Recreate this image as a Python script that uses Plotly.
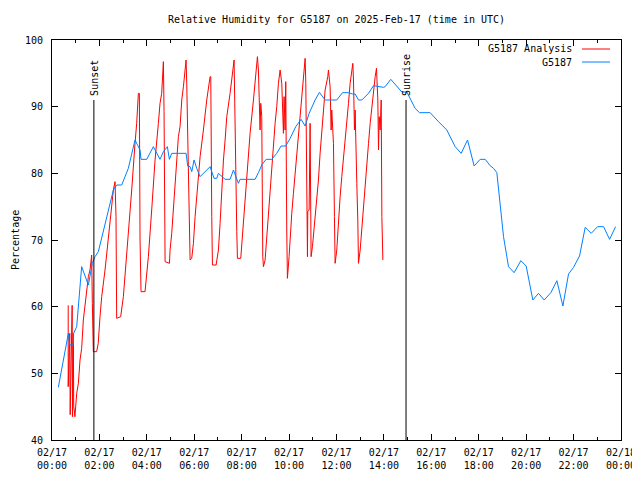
import plotly.graph_objects as go
import pandas as pd

# ---------------- data (minutes after 2025-02-17 00:00 UTC, %RH) ----------------
analysis_min = [41, 41, 45, 46, 51, 52, 54, 55, 57, 58, 62.5, 66.7, 70.9, 75.1, 79.3, 83.5, 87.8, 92, 96.2,
                100.4, 102.1, 104.6, 113, 117, 121.5, 125.8, 134.2, 142.6, 151, 155.3, 159.5, 162, 163.7,
                173.8, 180.6, 184.8, 193.2, 201.7, 210.1, 214.3, 218.6, 221.1, 222.8, 225.3, 235.4, 243.9,
                252.3, 260.8, 269.2, 273.4, 277.6, 281.9, 283.6, 286.2, 297.2, 298.8, 303, 307.2, 311.4,
                315.7, 319.9, 324.1, 328.4, 332.6, 336.8, 339.3, 341, 347.8, 349.5, 353.6, 357.9, 362.1,
                366.3, 370.5, 374.8, 383.2, 391.6, 400.1, 401.8, 404.3, 406, 415.3, 421.2, 425.4, 429.6,
                433.9, 438.1, 442.3, 450.7, 457.5, 460.8, 467.6, 469.3, 477.7, 484.5, 492.9, 497.1, 501.3,
                509.8, 518.2, 519.9, 522.4, 525, 526.6, 528.3, 530.8, 533.4, 535.1, 539.3, 543.5, 547.7,
                551.9, 556.1, 560.4, 564.6, 568.8, 573, 577.3, 581.5, 585.7, 587.4, 589.9, 591.6, 594.1,
                595.8, 600, 602.6, 606.8, 611, 615.2, 619.5, 623.7, 627.9, 632.1, 636.3, 640.6, 642.3,
                644.8, 646.5, 647.3, 650.7, 653.2, 655.7, 659.1, 661.6, 665.9, 670.1, 674.3, 678.5, 682.7,
                687, 691.2, 697.9, 699.6, 703.8, 706.4, 708, 710.6, 712.3, 714.8, 716.5, 720.7, 724.9,
                729.2, 733.4, 737.6, 741.8, 746.1, 750.3, 754.5, 758.7, 761.3, 763, 765.5, 767.2, 768.9,
                771.4, 773.9, 775.6, 779.9, 784.1, 788.3, 792.5, 796.7, 801, 805.2, 809.4, 813.6, 817.9,
                821.2, 824.6, 826.3, 828, 830.5, 833.1, 834.8, 837.3]
analysis_val = [60.2, 48.0, 56.0, 43.8, 60.2, 43.5, 56.0, 45.0, 44.2, 43.5, 47, 48.5, 52, 53.75, 58, 60.5, 62.75,
                64.5, 65.5, 67.75, 60.5, 53.25, 53.25, 54.5, 58.5, 61.5, 65.5, 70.5, 74.5, 77.5, 78.75, 73.5,
                58.25, 58.5, 61.5, 64.5, 70.5, 77.5, 84.5, 87.5, 92, 92, 70, 62.25, 62.25, 67.5, 74.5, 82,
                87.5, 90.5, 92, 96.75, 89.25, 66.75, 66.5, 68.5, 71, 74.5, 78.5, 82.5, 85.5, 87, 91, 93,
                95.5, 97, 93.5, 71, 67, 67.25, 69.5, 73.5, 76.5, 79, 82.5, 86.5, 91, 94.5, 94.5, 73.5,
                66.25, 66.25, 68.5, 72.5, 77.5, 82, 85, 88.5, 92, 96, 97, 71.25, 67.25, 67.25, 72.5, 78.5,
                82.5, 86, 91, 96.5, 97.5, 95.5, 88.5, 86.5, 90.5, 88.5, 67.5, 66, 67, 70.5, 74.5, 78,
                81.5, 85, 87.5, 90, 93.5, 95.5, 93.5, 86, 91.5, 86.5, 93.75, 71.5, 64.25, 67.5, 70.5, 74,
                77, 80, 82.5, 85.5, 88.5, 92, 95, 97.25, 93.5, 75, 67.5, 74.25, 74.5, 87.5, 67.5, 69,
                70.5, 73, 76, 79, 83, 86.5, 89.5, 92.5, 94.5, 95.5, 93, 86.5, 89.5, 86.5, 84.5, 73.5,
                66.5, 68.5, 73, 76.5, 79.5, 82, 85, 88, 90.5, 93.5, 95.5, 96.5, 94, 86.5, 89.5, 83.5,
                78.5, 73, 66.5, 68.5, 72, 75.5, 78, 81, 84.5, 87.5, 90, 93, 94.5, 95.75, 91, 83.5, 88.5,
                86.5, 91, 73.5, 67]

obs_min = [16, 41.4, 44.7, 54, 54.8, 62.5, 75.1, 92, 102.1, 108.9, 117.3, 146.8, 155.3, 163.7, 176.4, 193.2,
           210.1, 222.8, 225.3, 239.7, 256.5, 273.4, 281.9, 292, 297, 303, 339.3, 343.5, 349.5, 353.7,
           359.5, 366.3, 374.8, 400.1, 410, 417, 421.2, 438.1, 450.7, 459.2, 467.6, 471.8, 476, 514,
           522.4, 530.9, 541.9, 556.1, 568.8, 579.8, 591.6, 602.6, 616.9, 630.4, 640.6, 650.7, 665.9,
           676.8, 691.2, 720.7, 735.1, 750.3, 760.4, 767.2, 775.6, 784.1, 801, 813.6, 839, 843.1, 857.4,
           885.3, 898, 919, 930, 957, 978.1, 999.2, 1020.3, 1035.5, 1051.6, 1068.4, 1083.6, 1096.3,
           1108.9, 1117.4, 1125.8, 1132.6, 1142.7, 1155.3, 1169.6, 1186.5, 1200, 1216.9, 1231.2, 1245.6,
           1262.5, 1277.7, 1292.9, 1307.2, 1319.9, 1335.1, 1349.4, 1364.6, 1380.7, 1395.9, 1411.1, 1426.3]
obs_val = [47.9, 56, 54.25, 54.25, 56, 57, 66, 63.25, 66.5, 67.5, 68.25, 75.5, 77.5, 78.25, 78.25, 80.75, 85,
           83.5, 82.1, 82.1, 84, 82.1, 83.25, 84, 82.1, 83, 83, 81.1, 81, 80.25, 82, 80.75, 79.5, 81,
           79.25, 79.25, 80, 79.1, 79.1, 80.5, 79.25, 78.5, 79.1, 79.1, 80.1, 81.25, 82.1, 82.1, 83, 84.1,
           84.1, 85.25, 87, 88.1, 87.1, 89, 91, 92.15, 91, 91, 92.1, 92.1, 91.9, 91.9, 91, 91, 92, 93.15,
           92.9, 93, 94.1, 92.2, 92.2, 89.75, 89.1, 89.1, 87.75, 86.5, 84, 83, 85, 81.1, 82.1, 82.1,
           81.15, 80.75, 80.1, 76.5, 70.5, 66, 65.1, 66.9, 66.1, 61, 62, 61, 62.1, 63.9, 60.1, 64.9,
           65.9, 67.6, 71.9, 71, 72, 72, 70.1, 72]

sun_events = ["Sunset", "Sunrise"]
sun_times = ["2025-02-17 01:46", "2025-02-17 14:56"]
sun_line_top = 91

series_names = ["G5187 Analysis", "G5187"]
series_colors = ["#ff0000", "#0080ff"]

base = pd.Timestamp("2025-02-17 00:00")
ana_t = base + pd.to_timedelta(analysis_min, unit="m")
obs_t = base + pd.to_timedelta(obs_min, unit="m")

FONT = "DejaVu Sans Mono"
# page body has an 8px default margin; the figure starts at (8, 8) in the window
W, H = 632, 472

fig = go.Figure()
fig.add_trace(go.Scatter(x=ana_t, y=analysis_val, mode="lines", name=series_names[0],
                         line=dict(color=series_colors[0], width=1), showlegend=False))
fig.add_trace(go.Scatter(x=obs_t, y=obs_val, mode="lines", name=series_names[1],
                         line=dict(color=series_colors[1], width=1), showlegend=False))

# sunset / sunrise markers
for name, t in zip(sun_events, sun_times):
    fig.add_shape(type="line", xref="x", yref="y", x0=t, x1=t, y0=40, y1=sun_line_top,
                  line=dict(color="black", width=1))
    fig.add_annotation(x=t, y=sun_line_top, xref="x", yref="y", text=name, textangle=-90,
                       showarrow=False, xanchor="center", yanchor="bottom", yshift=2,
                       font=dict(family=FONT, size=10, color="black"))

# manual legend (text on the left, line sample on the right, gnuplot style)
leg_y = [0.9775, 0.945]
for name, col, yy in zip(series_names, series_colors, leg_y):
    fig.add_annotation(x=0.9174, y=yy, xref="paper", yref="paper", text=name, showarrow=False,
                       xanchor="right", yanchor="middle", font=dict(family=FONT, size=10, color="black"))
    fig.add_shape(type="line", xref="paper", yref="paper", x0=0.9315, x1=0.9807, y0=yy, y1=yy,
                  line=dict(color=col, width=1))

# y axis title placed like gnuplot's
fig.add_annotation(x=-37 / 569, y=0.5, xref="paper", yref="paper", text="Percentage", textangle=-90,
                   showarrow=False, xanchor="center", yanchor="middle",
                   font=dict(family=FONT, size=10, color="black"))

fig.update_layout(
    width=W, height=H,
    margin=dict(l=44, r=19, t=32, b=40, autoexpand=False),
    paper_bgcolor="white", plot_bgcolor="white",
    font=dict(family=FONT, size=10, color="black"),
    title=dict(text="Relative Humidity for G5187 on 2025-Feb-17 (time in UTC)", x=0.5, xref="paper",
               xanchor="center", y=1 - 11 / H, yref="container", yanchor="middle",
               font=dict(family=FONT, size=10, color="black")),
    showlegend=False,
)
fig.update_xaxes(
    type="date", range=["2025-02-17 00:00", "2025-02-18 00:00"],
    tickmode="linear", tick0="2025-02-17 00:00", dtick=2 * 3600 * 1000,
    tickformat="%m/%d<br>%H:%M", ticks="inside", ticklen=6, tickcolor="black", tickwidth=1,
    minor=dict(ticks="inside", dtick=3600 * 1000, ticklen=3, tickcolor="black", tickwidth=1),
    showline=True, linecolor="black", linewidth=1, mirror="allticks",
    showgrid=False, zeroline=False, tickfont=dict(family=FONT, size=10, color="black"),
    ticklabelstandoff=3, automargin=False, ticklabeloverflow="allow",
)
fig.update_yaxes(
    range=[40, 100], tickmode="linear", tick0=40, dtick=10,
    ticks="inside", ticklen=6, tickcolor="black", tickwidth=1,
    showline=True, linecolor="black", linewidth=1, mirror="allticks",
    showgrid=False, zeroline=False, tickfont=dict(family=FONT, size=10, color="black"),
    ticklabelstandoff=6, automargin=False,
)

fig.write_html("out.html")
